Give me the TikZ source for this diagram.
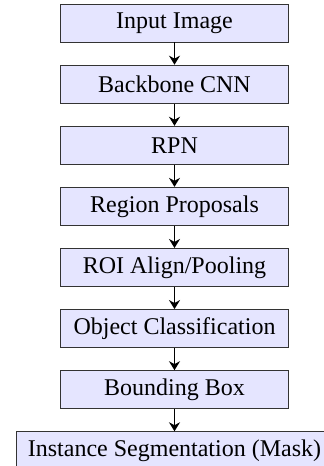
\documentclass[tikz,border=0pt]{standalone}
\usepackage{fontspec}
\setmainfont{Liberation Serif}
\usetikzlibrary{positioning, arrows.meta}

\tikzset{
    stage/.style={draw=black!80, fill=blue!10, minimum width=4cm, minimum height=19pt,
        inner ysep=4pt, inner xsep=5.5pt, font=\fontsize{12pt}{14pt}\selectfont},
    flow/.style={-{Stealth[length=4.5pt, width=5.5pt]}, thick},
}

\begin{document}
\begin{tikzpicture}[node distance=11.15pt]
    \useasboundingbox (-87.25pt, 11.5pt) rectangle (74.75pt, -221.5pt);
    \node[stage] (input) at (0, 0) {Input Image};
    \node[stage, below=of input] (backbone) {Backbone CNN};
    \node[stage, below=of backbone] (rpn) {RPN};
    \node[stage, below=of rpn] (proposals) {Region Proposals};
    \node[stage, below=of proposals] (roi) {ROI Align/Pooling};
    \node[stage, below=of roi] (cls) {Object Classification};
    \node[stage, below=of cls] (bbox) {Bounding Box};
    \node[stage, below=of bbox] (mask) {Instance Segmentation (Mask)};

    \foreach \from/\to in {input/backbone, backbone/rpn, rpn/proposals, proposals/roi,
                           roi/cls, cls/bbox, bbox/mask} {
        \draw[flow] (\from) -- (\to);
    }
\end{tikzpicture}
\end{document}
